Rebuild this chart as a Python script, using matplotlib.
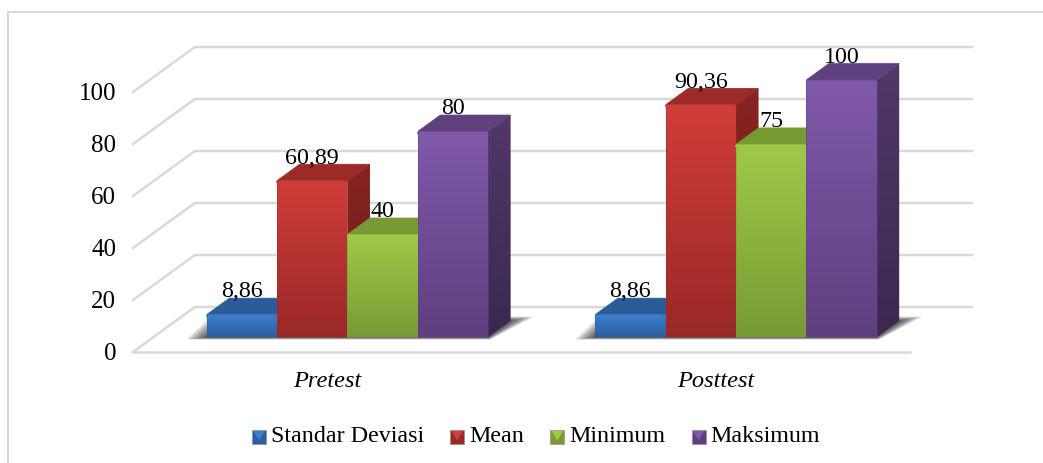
import numpy as np
import matplotlib
matplotlib.use("Agg")
import matplotlib.pyplot as plt
from matplotlib.colors import LinearSegmentedColormap
from matplotlib.legend_handler import HandlerBase
from matplotlib.lines import Line2D
from matplotlib.patches import Patch, Polygon, Rectangle

categories = ["Pretest", "Posttest"]
series_names = ["Standar Deviasi", "Mean", "Minimum", "Maksimum"]
standar_deviasi = [8.86, 8.86]
mean = [60.89, 90.36]
minimum = [40, 75]
maksimum = [80, 100]
yticks = [0, 20, 40, 60, 80, 100]

# front top, front bottom, roof, side top, side bottom
palette = [
    ("#3b7fce", "#2b5f9f", "#2a5c9a", "#24507f", "#1f4570"),
    ("#d03d3a", "#992927", "#9c2a27", "#872421", "#6f1d1b"),
    ("#9fca48", "#799a34", "#789a33", "#66842b", "#566f24"),
    ("#8059a9", "#5f3f80", "#5f4180", "#503869", "#3b2950"),
]

plt.rcParams["font.family"] = ["Liberation Serif", "DejaVu Serif"]
plt.rcParams["font.size"] = 17.3

W, H = 1043, 463
fig = plt.figure(figsize=(W / 100, H / 100), dpi=100)
# the axes spans the whole box, front floor corner to back top corner
ax = fig.add_axes([133 / W, (H - 352) / H, (972 - 133) / W, (352 - 47) / H])

# depth of the box in data units
depth_x = 62 / 389.5
depth_y = 45 / 2.6
bar_w = 70.5 / 389.5
d_front, d_back = 0.325, 0.69
# bars stand a little inside the box, so they read slightly shorter than the wall
bar_scale = 0.99


def proj(x, v, d):
    return x + depth_x * d, v + depth_y * d


def grad_face(verts, c_top, c_bottom, z):
    verts = np.array(verts)
    cmap = LinearSegmentedColormap.from_list("f", [c_top, c_bottom])
    ext = (verts[:, 0].min(), verts[:, 0].max(), verts[:, 1].min(), verts[:, 1].max())
    im = ax.imshow(np.linspace(0, 1, 64)[:, None], cmap=cmap, extent=ext,
                   aspect="auto", origin="upper", zorder=z)
    im.set_clip_path(Polygon(verts, transform=ax.transData))


def draw_bar(x, v, cols, z):
    fa, fb, roof, sa, sb = cols
    x1 = x + bar_w
    v = v * bar_scale
    # roof and right side sit behind the front face
    ax.add_patch(Polygon([proj(x, v, d_front), proj(x1, v, d_front), proj(x1, v, d_back), proj(x, v, d_back)],
                         fc=roof, ec=roof, lw=0.5, zorder=z, clip_on=False))
    grad_face([proj(x1, v, d_front), proj(x1, 0, d_front), proj(x1, 0, d_back), proj(x1, v, d_back)], sa, sb, z + 0.1)
    grad_face([proj(x, v, d_front), proj(x1, v, d_front), proj(x1, 0, d_front), proj(x, 0, d_front)], fa, fb, z + 0.2)
    ax.add_patch(Polygon([proj(x, v, d_front), proj(x1, v, d_front), proj(x1, 0, d_front), proj(x, 0, d_front)],
                         fc="none", ec=fb, lw=0.6, alpha=0.5, zorder=z + 0.3, clip_on=False))
    ax.plot(*zip(proj(x + 0.004, v, d_front - 0.035), proj(x1 - 0.004, v, d_front - 0.035)),
            color=fa, lw=1.2, zorder=z + 0.4, clip_on=False, solid_capstyle="butt")


# walls and floor
grid_c = "#d9d9d9"
grid_lw = 1.8
x_left, x_right = -0.5, 1.5
for v in yticks:
    pts = [proj(x_left, v, 0), proj(x_left, v, 1), proj(x_right, v, 1)]
    ax.plot(*zip(*pts), color=grid_c, lw=grid_lw, zorder=1, clip_on=False, solid_joinstyle="miter")
ax.plot(*zip(proj(x_left, 0, 0), proj(x_right, 0, 0)), color=grid_c, lw=grid_lw, zorder=1, clip_on=False)

series = [standar_deviasi, mean, minimum, maksimum]
for c, xc in enumerate(range(len(categories))):
    x_start = xc - 2 * bar_w
    x_end = xc + 2 * bar_w
    # soft shadow on the floor
    for s in np.linspace(1, 0, 16):
        ox = 0.004 + 0.042 * s
        od = 0.01 + 0.09 * s
        ax.add_patch(Polygon([proj(x_start - ox, 0, d_front - od * 0.5), proj(x_end + ox * 0.3, 0, d_front - od * 0.5),
                              proj(x_end + ox, 0, d_back + od), proj(x_start - 0.01 - 0.055 * s, 0, d_back + od)],
                             fc="black", ec="none", alpha=0.055, zorder=2, clip_on=False))

    for i, vals in enumerate(series):
        draw_bar(x_start + i * bar_w, vals[c], palette[i], 3 + i + 5 * c)

# value labels go on top of everything
for c, xc in enumerate(range(len(categories))):
    x_start = xc - 2 * bar_w
    for i, vals in enumerate(series):
        xm = x_start + (i + 0.5) * bar_w + depth_x * d_front
        ym = vals[c] * bar_scale + depth_y * d_back
        ax.annotate(f"{vals[c]:g}".replace(".", ","), (xm, ym), xytext=(0, 0.5), textcoords="offset points",
                    ha="center", va="baseline", color="black", zorder=30, annotation_clip=False)

ax.set_xlim(x_left, x_right + depth_x)
ax.set_ylim(0, 100 + depth_y)
ax.set_xticks(range(len(categories)))
ax.set_xticklabels(categories, style="italic", fontsize=17.6)
ax.set_yticks(yticks)
ax.tick_params(axis="both", length=0)
ax.tick_params(axis="x", pad=14)
ax.tick_params(axis="y", pad=12, labelsize=18)
for sp in ax.spines.values():
    sp.set_visible(False)
ax.patch.set_visible(False)


class BevelHandler(HandlerBase):
    def create_artists(self, legend, orig, xd, yd, width, height, fontsize, trans):
        top = orig.get_facecolor()
        dark = orig.get_edgecolor()
        x0, y0 = -xd, -yd - 1
        s = width
        base = Rectangle((x0, y0), s, s, fc=dark, ec="#8c8c8c", lw=0.4, transform=trans)
        tri = Polygon([(x0 + 0.8, y0 + s - 0.8), (x0 + s - 0.8, y0 + s - 0.8), (x0 + s / 2, y0 + s * 0.25)],
                      fc=top, ec="none", transform=trans)
        return [base, tri]


handles = [Patch(fc=p[0], ec=p[1]) for p in palette]
fig.legend(handles, series_names, handler_map={Patch: BevelHandler()}, ncol=4, frameon=False,
           loc="center", bbox_to_anchor=(536 / W, (H - 436.5) / H), borderpad=0, borderaxespad=0,
           handlelength=0.58, handletextpad=0.2, columnspacing=1.1)

# chart frame, only left and top survive the crop
fig.add_artist(Line2D([8 / W, 8 / W, 1], [0, (H - 12) / H, (H - 12) / H], transform=fig.transFigure,
                      color=grid_c, lw=1.5, solid_joinstyle="miter"))

fig.savefig("out.png", dpi=100)
